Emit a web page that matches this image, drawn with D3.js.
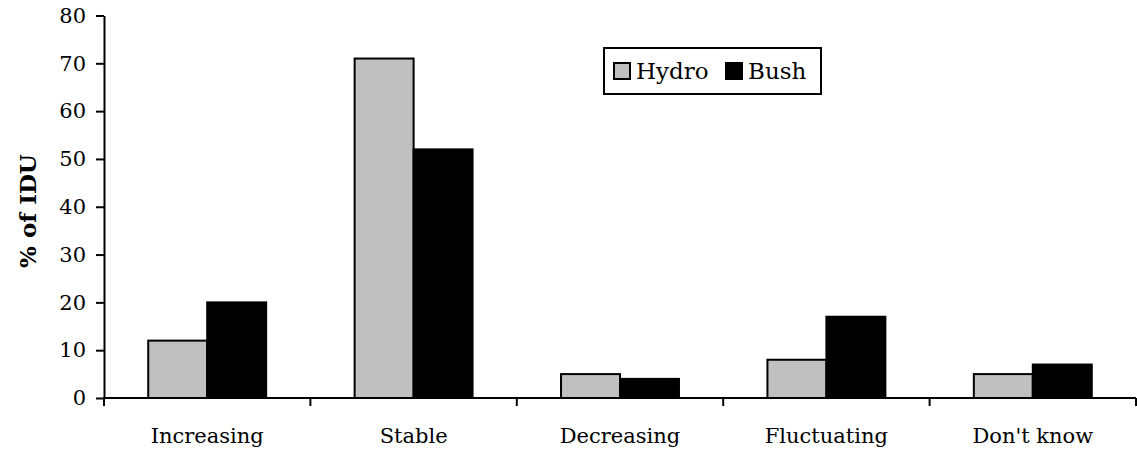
<!DOCTYPE html>
<html>
<head>
<meta charset="utf-8">
<script src="https://cdn.jsdelivr.net/npm/d3@7"></script>
<style>
  html, body { margin: 0; padding: 0; background: #fff; }
  svg { display: block; }
  text { font-family: "DejaVu Serif", serif; fill: #000; }
</style>
</head>
<body>
<svg id="chart" width="1137" height="454"></svg>
<script>
const categories = ["Increasing", "Stable", "Decreasing", "Fluctuating", "Don't know"];
const seriesNames = ["Hydro", "Bush"];
const hydro = [12, 71, 5, 8, 5];
const bush = [20, 52, 4, 17, 7];
const yTicks = [0, 10, 20, 30, 40, 50, 60, 70, 80];
const colors = ["#c0c0c0", "#000000"];
const yTitle = "% of IDU";

(function () {
const svg = d3.select("#chart");
const mLeft = 104, mRight = 1136, mTop = 15.5, mBottom = 398;

const x = d3.scaleBand().domain(categories).range([mLeft, mRight]).paddingInner(0).paddingOuter(0);
const x1 = d3.scaleBand().domain(seriesNames).range([0, x.bandwidth()]).paddingInner(0).paddingOuter(0.75);
const y = d3.scaleLinear().domain([0, 80]).range([mBottom, mTop]);

const values = [hydro, bush];

// bars
const g = svg.append("g");
seriesNames.forEach((s, si) => {
  g.selectAll(".bar-" + si)
    .data(categories)
    .enter().append("rect")
    .attr("x", c => x(c) + x1(s))
    .attr("y", (c, i) => y(values[si][i]))
    .attr("width", x1.bandwidth())
    .attr("height", (c, i) => y(0) - y(values[si][i]))
    .attr("fill", colors[si])
    .attr("stroke", "#000")
    .attr("stroke-width", 2);
});

// y axis
const yAxis = d3.axisLeft(y).tickValues(yTicks).tickSize(8).tickSizeOuter(0).tickPadding(10);
const ya = svg.append("g").attr("transform", `translate(${mLeft},0)`).call(yAxis);
ya.select(".domain").attr("stroke", "#000").attr("stroke-width", 2);
ya.selectAll(".tick line").attr("stroke", "#000").attr("stroke-width", 2);
ya.selectAll(".tick text").style("font-family", '"DejaVu Serif", serif').style("font-size", "21px").attr("fill", "#000");

// x axis line
svg.append("line").attr("x1", mLeft - 1).attr("x2", mRight).attr("y1", y(0)).attr("y2", y(0))
  .attr("stroke", "#000").attr("stroke-width", 2);
// x ticks at band boundaries
const bounds = categories.map(c => x(c)).concat([x.range()[1]]);
svg.selectAll(".xtick").data(bounds).enter().append("line")
  .attr("x1", d => d).attr("x2", d => d)
  .attr("y1", y(0)).attr("y2", y(0) + 8)
  .attr("stroke", "#000").attr("stroke-width", 2);
// category labels
svg.selectAll(".xlab").data(categories).enter().append("text")
  .attr("x", c => x(c) + x.bandwidth() / 2)
  .attr("y", 443)
  .attr("text-anchor", "middle")
  .style("font-size", "21px")
  .text(c => c);

// y title
svg.append("text")
  .attr("transform", `translate(36,${(150 + 272) / 2}) rotate(-90)`)
  .attr("text-anchor", "middle")
  .style("font-size", "23px")
  .style("font-weight", "bold")
  .text(yTitle);

// legend
const lg = svg.append("g");
lg.append("rect").attr("x", 604).attr("y", 48).attr("width", 217).attr("height", 46)
  .attr("fill", "#fff").attr("stroke", "#000").attr("stroke-width", 2);
const legX = [614, 726];
seriesNames.forEach((s, i) => {
  lg.append("rect").attr("x", legX[i]).attr("y", 63).attr("width", 16).attr("height", 16)
    .attr("fill", colors[i]).attr("stroke", "#000").attr("stroke-width", 2);
  lg.append("text").attr("x", legX[i] + 22).attr("y", 79)
    .style("font-size", "23px").text(s);
});
})();
</script>
</body>
</html>
